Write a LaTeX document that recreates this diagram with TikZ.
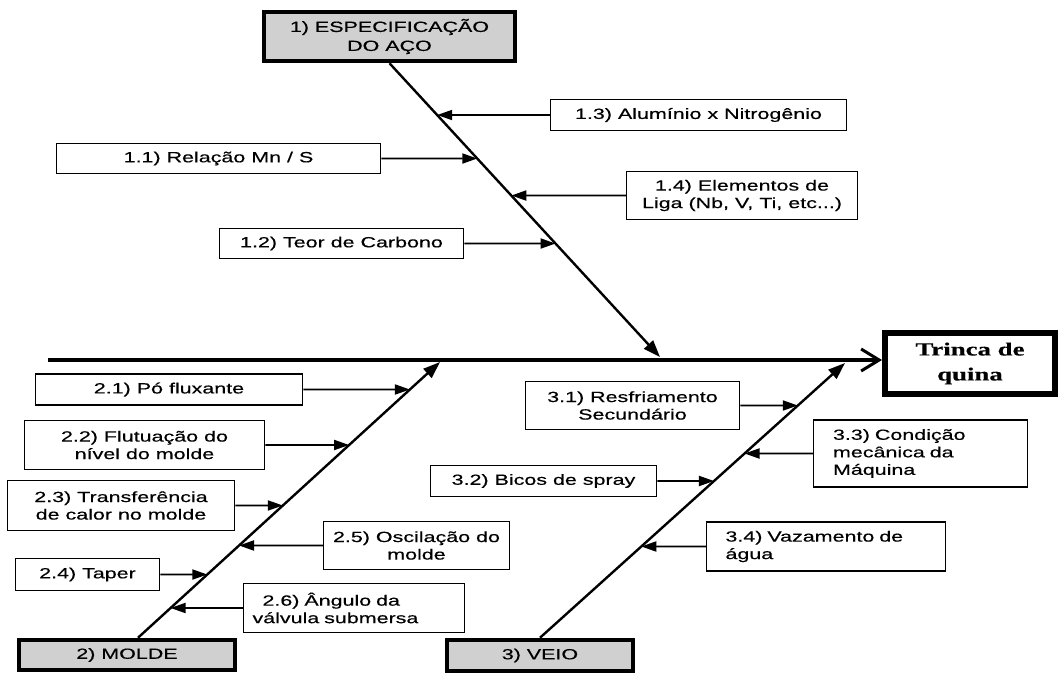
\documentclass[tikz,border=0pt]{standalone}
\usepackage{fontspec}
\setmainfont{Liberation Sans}[FakeStretch=1.45,FakeBold=0.4]
\newfontfamily\trincafont{Liberation Serif}[FakeStretch=1.45,FakeBold=0.4]
\usetikzlibrary{arrows.meta,calc}
\definecolor{catgray}{RGB}{208,208,208}
\begin{document}
\begin{tikzpicture}[x=1pt,y=-1pt,
  every node/.style={font=\fontsize{14.8}{17.5}\selectfont},
  cause/.style={draw=black, line width=1.5pt, fill=white, align=center, inner sep=0pt},
  cat/.style={draw=black, line width=4.5pt, fill=catgray, align=center, inner sep=0pt},
  bone/.style={line width=2.4pt, -{Triangle[length=17pt,width=12pt]}},
  sub/.style={line width=1.9pt, -{Triangle[length=15pt,width=10pt]}},
]
\useasboundingbox (0,0) rectangle (1061,675);

% category boxes
\node[cat, minimum width=251pt, minimum height=49pt, font=\fontsize{14.8}{19}\selectfont] (c1) at (389.5,36.5) {1) ESPECIFICAÇÃO\\DO AÇO};
\node[cat, minimum width=216pt, minimum height=30pt] (c2) at (127,655) {2) MOLDE};
\node[cat, minimum width=186pt, minimum height=31pt] (c3) at (540,655.5) {3) VEIO};
\node[draw=black, line width=6pt, minimum width=170pt, minimum height=61pt, align=center, inner sep=0pt,
      font=\trincafont\bfseries\fontsize{18.5}{25}\selectfont] (ef) at (970,363.5) {Trinca de\\quina};

% cause boxes
\node[cause, minimum width=296pt, minimum height=31pt] (b13) at (698.5,115) {1.3) Alumínio x Nitrogênio};
\node[cause, minimum width=324pt, minimum height=30pt] (b11) at (218.5,158.5) {1.1) Relação Mn / S};
\node[cause, minimum width=231pt, minimum height=48pt] (b14) at (742,195.5) {1.4) Elementos de\\Liga (Nb, V, Ti, etc...)};
\node[cause, minimum width=244pt, minimum height=30pt] (b12) at (341.5,243.5) {1.2) Teor de Carbono};

\node[cause, minimum width=267pt, minimum height=31pt] (b21) at (169,389.5) {2.1) Pó fluxante};
\node[cause, minimum width=240pt, minimum height=49pt] (b22) at (144.5,445) {2.2) Flutuação do\\nível do molde};
\node[cause, minimum width=227pt, minimum height=50pt] (b23) at (121,505.5) {2.3) Transferência\\de calor no molde};
\node[cause, minimum width=144pt, minimum height=32pt] (b24) at (87.5,574.5) {2.4) Taper};
\node[cause, minimum width=186pt, minimum height=48pt] (b25) at (416.5,545.5) {2.5) Oscilação do\\molde};
\node[cause, minimum height=49pt, text width=203pt, inner xsep=9pt, align=left] (b26) at (354,608) {\hspace*{10pt}2.6) Ângulo da\\válvula submersa};

\node[cause, minimum width=214pt, minimum height=48pt] (b31) at (632.5,405.5) {3.1) Resfriamento\\Secundário};
\node[cause, minimum width=226pt, minimum height=31pt] (b32) at (543.5,481) {3.2) Bicos de spray};
\node[cause, minimum height=67pt, text width=175pt, inner xsep=19.5pt, align=left] (b33) at (920.5,453.5) {3.3) Condição\\mecânica da\\Máquina};
\node[cause, minimum height=49pt, text width=201pt, inner xsep=19pt, align=left] (b34) at (826,546.5) {3.4) Vazamento de\\água};

% spine and bones
\coordinate (sp) at (48,360);
\draw[line width=4pt, -{Straight Barb[length=18pt,width=22pt,line width=3pt]}] (sp) -- (sp -| ef.west);

\coordinate (d1e) at (660,357);
\coordinate (d2s) at ($(c2.north)+(11,0)$);
\coordinate (d2e) at (440,362);
\coordinate (d3e) at (845,363);
\draw[bone] (c1.south) -- (d1e);
\draw[bone] (d2s) -- (d2e);
\draw[bone] (c3.north) -- (d3e);

% sub-cause arrows
\draw[sub] (b11.east) -- (intersection of b11.east--b11.west and c1.south--d1e);
\draw[sub] (b12.east) -- (intersection of b12.east--b12.west and c1.south--d1e);
\draw[sub] (b13.west) -- (intersection of b13.east--b13.west and c1.south--d1e);
\draw[sub] (b14.west) -- (intersection of b14.east--b14.west and c1.south--d1e);

\draw[sub] (b21.east) -- (intersection of b21.east--b21.west and d2s--d2e);
\draw[sub] (b22.east) -- (intersection of b22.east--b22.west and d2s--d2e);
\draw[sub] (b23.east) -- (intersection of b23.east--b23.west and d2s--d2e);
\draw[sub] (b24.east) -- (intersection of b24.east--b24.west and d2s--d2e);
\draw[sub] (b25.west) -- (intersection of b25.east--b25.west and d2s--d2e);
\draw[sub] (b26.west) -- (intersection of b26.east--b26.west and d2s--d2e);

\draw[sub] (b31.east) -- (intersection of b31.east--b31.west and c3.north--d3e);
\draw[sub] (b32.east) -- (intersection of b32.east--b32.west and c3.north--d3e);
\draw[sub] (b33.west) -- (intersection of b33.east--b33.west and c3.north--d3e);
\draw[sub] (b34.west) -- (intersection of b34.east--b34.west and c3.north--d3e);
\end{tikzpicture}
\end{document}
